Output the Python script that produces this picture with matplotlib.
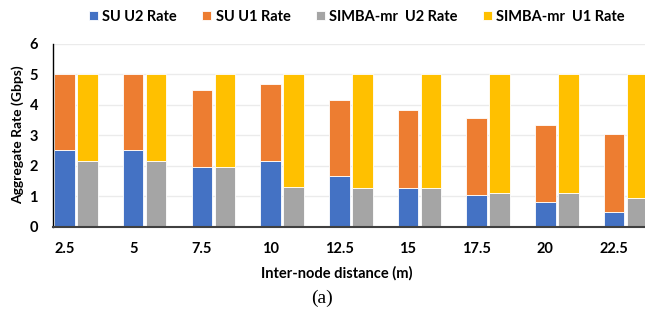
#!/usr/bin/env python3

import numpy as np
import matplotlib as mpl
mpl.use('Agg')
import matplotlib.pyplot as plt

mpl.rcParams.update({
    'font.family': ['Lato', 'DejaVu Sans'],
    'font.weight': 'bold',
})

DISTANCES = ['2.5', '5', '7.5', '10', '12.5', '15', '17.5', '20', '22.5']
SU_U2 = [2.50, 2.50, 1.97, 2.16, 1.66, 1.28, 1.05, 0.82, 0.49]
SU_U1 = [2.50, 2.50, 2.51, 2.50, 2.49, 2.54, 2.50, 2.50, 2.55]
SIMBA_U2 = [2.15, 2.15, 1.97, 1.29, 1.28, 1.28, 1.09, 1.09, 0.95]
SIMBA_U1 = [2.85, 2.85, 3.03, 3.71, 3.72, 3.72, 3.91, 3.91, 4.05]

BLUE, ORANGE, GRAY, YELLOW = '#4472C4', '#ED7D31', '#A5A5A5', '#FFC000'

fig = plt.figure(figsize=(6.45, 3.18), dpi=100)
ax = fig.add_axes([0.0826, 0.287, 1.0 - 0.0826, 0.576])

x = np.arange(len(DISTANCES))
width = 0.30
offset = 0.335
edge = dict(edgecolor='white', linewidth=0.6)

ax.bar(x, SU_U2, width, color=BLUE, label='SU U2 Rate', **edge)
ax.bar(x, SU_U1, width, bottom=SU_U2, color=ORANGE, label='SU U1 Rate', **edge)
ax.bar(x + offset, SIMBA_U2, width, color=GRAY, label='SIMBA-mr  U2 Rate', **edge)
ax.bar(x + offset, SIMBA_U1, width, bottom=SIMBA_U2, color=YELLOW,
       label='SIMBA-mr  U1 Rate', **edge)

ax.set_xlim(-0.163, 8.45)
ax.set_ylim(0, 6)
ax.set_xticks(x)
ax.set_xticklabels(DISTANCES, fontsize=10.5, fontweight='bold')
ax.set_yticks(range(7))
ax.set_yticklabels([str(v) for v in range(7)], fontsize=10.5, fontweight='bold')
ax.tick_params(axis='both', length=0)
ax.tick_params(axis='x', pad=11)
ax.tick_params(axis='y', pad=11)

ax.yaxis.grid(True, color='#EBEBEB', linewidth=1.0)
ax.set_axisbelow(True)
for side in ('top', 'right'):
    ax.spines[side].set_visible(False)
ax.spines['left'].set_color('black')
ax.spines['left'].set_linewidth(1.0)
ax.spines['bottom'].set_color('#404040')
ax.spines['bottom'].set_linewidth(1.5)

ax.set_xlabel('Inter-node distance (m)', fontsize=10.5, fontweight='bold')
ax.xaxis.set_label_coords(0.479, -0.215)
ax.set_ylabel('Aggregate Rate (Gbps)', fontsize=10, fontweight='bold')
ax.yaxis.set_label_coords(-0.05, 0.503)

fig.legend(loc='center', bbox_to_anchor=(357 / 645, 1 - 17 / 318), ncol=4,
           frameon=False, fontsize=10.5, handlelength=0.6, handleheight=0.6,
           handletextpad=0.3, columnspacing=1.75, borderaxespad=0)

fig.text(322 / 645, 1 - 298 / 318, '(a)', ha='center', va='center',
         fontsize=14, fontweight='normal', family='Liberation Serif')

fig.savefig('out.png', dpi=100)
